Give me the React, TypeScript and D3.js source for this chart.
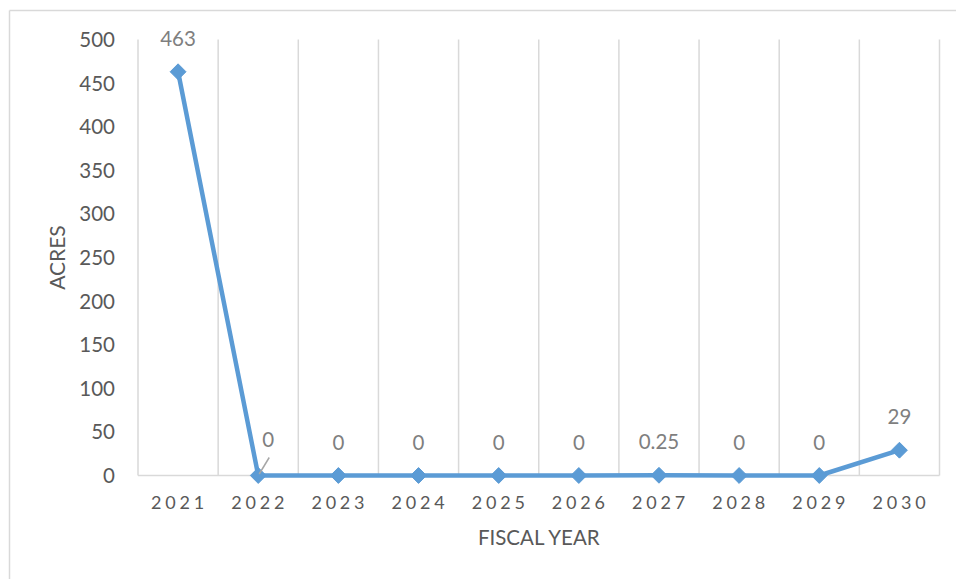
import React from "react";
import * as d3 from "d3";

const categories = ["2021", "2022", "2023", "2024", "2025", "2026", "2027", "2028", "2029", "2030"];
const values = [463, 0, 0, 0, 0, 0, 0.25, 0, 0, 29];
const labels = ["463", "0", "0", "0", "0", "0", "0.25", "0", "0", "29"];
const yTicks = [0, 50, 100, 150, 200, 250, 300, 350, 400, 450, 500];

const W = 956;
const H = 579;
const left = 138;
const right = 939.5;
const top = 39.5;
const bottom = 475.5;
const FONT = "Lato, 'Open Sans', sans-serif";

export default function App() {
  const x = d3.scaleBand<string>().domain(categories).range([left, right]).padding(0);
  const y = d3.scaleLinear().domain([0, 500]).range([bottom, top]);
  const cx = (c: string) => (x(c) as number) + x.bandwidth() / 2;

  const line = d3
    .line<number>()
    .x((_, i) => cx(categories[i]))
    .y((d) => y(d));

  const boundaries = categories.map((c) => x(c) as number).concat([right]);
  const diamond = d3.symbol().type(d3.symbolDiamond2 ?? d3.symbolDiamond).size(160)();

  return (
    <svg
      width={W}
      height={H}
      style={{ position: "absolute", left: 0, top: 0, background: "#fff" }}
      fontFamily={FONT}
    >
      <rect x={0} y={0} width={W} height={H} fill="#fff" />
      {/* frame */}
      <line x1={9.5} x2={9.5} y1={10.5} y2={H} stroke="#d9d9d9" strokeWidth={1.5} />
      <line x1={9.5} x2={W} y1={10.5} y2={10.5} stroke="#d9d9d9" strokeWidth={1.5} />

      {/* vertical gridlines */}
      {boundaries.map((b, i) => (
        <line key={i} x1={b} x2={b} y1={top} y2={bottom} stroke="#d9d9d9" strokeWidth={1.5} />
      ))}
      {/* baseline axis */}
      <line x1={left} x2={right} y1={bottom} y2={bottom} stroke="#d9d9d9" strokeWidth={1.5} />

      {/* y tick labels */}
      {yTicks.map((t) => (
        <text key={t} x={115} y={y(t) + 7.5} textAnchor="end" fontSize={20.5} fill="#595959">
          {t}
        </text>
      ))}

      {/* x tick labels */}
      {categories.map((c) => (
        <text
          key={c}
          x={cx(c) + 1.5}
          y={509}
          textAnchor="middle"
          fontSize={18}
          letterSpacing={3.8}
          fill="#595959"
        >
          {c}
        </text>
      ))}

      {/* axis titles */}
      <text x={(left + right) / 2} y={545} textAnchor="middle" fontSize={20.5} fill="#595959">
        FISCAL YEAR
      </text>
      <text
        transform={`translate(65, ${(top + bottom) / 2}) rotate(-90)`}
        textAnchor="middle"
        fontSize={21}
        fill="#595959"
      >
        ACRES
      </text>

      {/* line */}
      <path d={line(values) ?? ""} fill="none" stroke="#5b9bd5" strokeWidth={4.5} strokeLinejoin="round" />
      {values.map((v, i) => (
        <path
          key={i}
          d={diamond ?? ""}
          transform={`translate(${cx(categories[i])}, ${y(v)})`}
          fill="#5b9bd5"
          stroke="#5b9bd5"
          strokeWidth={1}
        />
      ))}

      {/* data labels */}
      {values.map((v, i) => {
        const px = cx(categories[i]);
        const py = y(v);
        if (i === 1) {
          return (
            <g key={i}>
              <line x1={px + 1} y1={py - 1.5} x2={px + 11} y2={py - 18} stroke="#a6a6a6" strokeWidth={1.5} />
              <text x={px + 10} y={py - 28.5} textAnchor="middle" fontSize={20.5} fill="#7f7f7f">
                {labels[i]}
              </text>
            </g>
          );
        }
        return (
          <text key={i} x={px} y={py - 26} textAnchor="middle" fontSize={20.5} fill="#7f7f7f">
            {labels[i]}
          </text>
        );
      })}
    </svg>
  );
}
